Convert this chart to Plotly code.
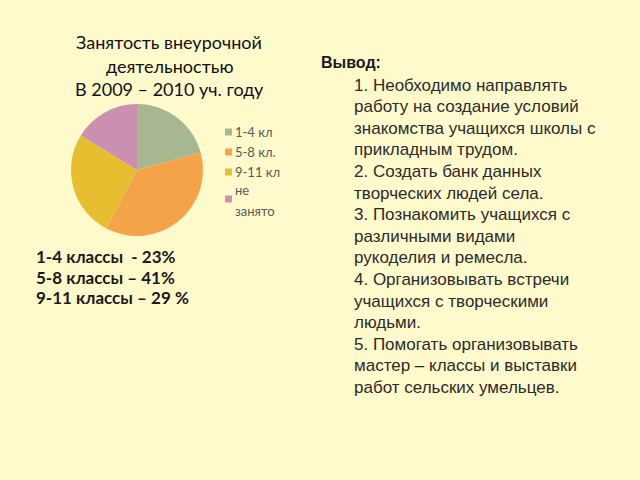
import plotly.graph_objects as go

W, H = 640, 480

categories = ["1-4 кл", "5-8 кл.", "9-11 кл", "не<br>занято"]
values = [23, 41, 29, 18]
colors = ["#A7B791", "#F4A349", "#E6BE2F", "#CB90AF"]

title_lines = ["Занятость внеурочной", "деятельностью", "В 2009 – 2010 уч. году"]
summary_lines = ["1-4 классы  - 23%", "5-8 классы – 41%", "9-11 классы – 29 %"]
conclusion_head = "Вывод:"
conclusion_lines = [
    "1. Необходимо направлять",
    "работу на создание условий",
    "знакомства учащихся школы с",
    "прикладным трудом.",
    "2. Создать банк данных",
    "творческих людей села.",
    "3. Познакомить учащихся с",
    "различными видами",
    "рукоделия и ремесла.",
    "4. Организовывать встречи",
    "учащихся с творческими",
    "людьми.",
    "5. Помогать организовывать",
    "мастер – классы и выставки",
    "работ сельских умельцев.",
]

def px(x):
    return x / W

def py(y):
    return 1 - y / H

fig = go.Figure()

# pie centered at (137,170), radius 66
cx, cy, r = 137, 170, 66
fig.add_trace(go.Pie(
    labels=categories,
    values=values,
    marker=dict(colors=colors, line=dict(width=0)),
    sort=False,
    direction="clockwise",
    rotation=0,
    textinfo="none",
    hoverinfo="label+value",
    showlegend=False,
    domain=dict(x=[px(cx - r), px(cx + r)], y=[py(cy + r), py(cy - r)]),
))

annotations = []
shapes = []

# title
title_y = [42, 66, 89]
for t, y in zip(title_lines, title_y):
    annotations.append(dict(text=t, x=px(169), y=py(y), xref="paper", yref="paper",
                            xanchor="center", yanchor="middle", showarrow=False,
                            font=dict(family="Lato", size=18, color="#111111")))

# legend (manual)
leg_y = [132, 152, 172, 199]
for i, (lab, c, y) in enumerate(zip(categories, colors, leg_y)):
    shapes.append(dict(type="rect", xref="paper", yref="paper",
                       x0=px(225), x1=px(232), y0=py(y + 3.5), y1=py(y - 3.5),
                       fillcolor=c, line=dict(width=0)))
    if i < 3:
        annotations.append(dict(text=lab, x=px(233), y=py(y), xref="paper", yref="paper",
                                xanchor="left", yanchor="middle", showarrow=False,
                                font=dict(family="Lato", size=13, color="#595959")))
    else:
        for part, yy in zip(lab.split("<br>"), [y - 9, y + 12]):
            annotations.append(dict(text=part, x=px(233), y=py(yy), xref="paper", yref="paper",
                                    xanchor="left", yanchor="middle", showarrow=False,
                                    font=dict(family="Lato", size=13, color="#595959")))

# summary
sum_y = [256, 277, 297]
for t, y in zip(summary_lines, sum_y):
    annotations.append(dict(text="<b>" + t + "</b>", x=px(34), y=py(y), xref="paper", yref="paper",
                            xanchor="left", yanchor="middle", showarrow=False,
                            font=dict(family="Lato", size=17, color="#1a1a1a")))

# conclusion
annotations.append(dict(text="<b>" + conclusion_head + "</b>", x=px(319), y=py(63), xref="paper", yref="paper",
                        xanchor="left", yanchor="middle", showarrow=False,
                        font=dict(family="Liberation Sans", size=16, color="#1a1a1a")))
for i, t in enumerate(conclusion_lines):
    y = 85 + 21.6 * i
    annotations.append(dict(text=t, x=px(352), y=py(y), xref="paper", yref="paper",
                            xanchor="left", yanchor="middle", showarrow=False,
                            font=dict(family="Liberation Sans", size=17, color="#2b2b2b")))

fig.update_layout(
    width=W, height=H,
    margin=dict(l=0, r=0, t=0, b=0),
    paper_bgcolor="#FFFACC",
    plot_bgcolor="#FFFACC",
    annotations=annotations,
    shapes=shapes,
)

fig.write_html("out.html", include_plotlyjs=True, config={"displayModeBar": False})
